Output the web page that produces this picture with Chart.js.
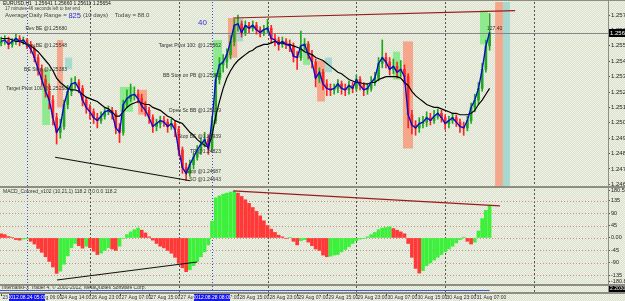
<!DOCTYPE html>
<html>
<head>
<meta charset="utf-8">
<script src="https://cdn.jsdelivr.net/npm/chart.js@4.4.0/dist/chart.umd.min.js"></script>
<style>
html, body { margin: 0; padding: 0; }
body {
  width: 625px; height: 301px; overflow: hidden; position: relative;
  background: #e4e8d8 repeating-conic-gradient(#d8e2c8 0 25%, #f2f0ea 0 50%) 0 0 / 2px 2px;
}
canvas { position: absolute; left: 0; }
.sep { position: absolute; background: #8f8d80; }
</style>
</head>
<body>
<canvas id="main" width="625" height="187" style="top:0"></canvas>
<canvas id="macd" width="625" height="97" style="top:188px"></canvas>
<canvas id="foot" width="625" height="16" style="top:285px"></canvas>
<div class="sep" style="left:0;top:0;width:625px;height:1px"></div>
<div class="sep" style="left:0;top:186px;width:625px;height:2px"></div>
<div class="sep" style="left:0;top:284px;width:625px;height:2px"></div>
<div class="sep" style="left:0;top:292px;width:625px;height:2px"></div>
<div class="sep" style="left:608px;top:0;width:1px;height:294px"></div>
<script>
'use strict'

// EURUSD H1, one value per bar
const closes = [
  1.2559, 1.2560, 1.2557, 1.2559, 1.2561, 1.2559, 1.2560, 1.2557, 1.2554, 1.2548,
  1.2540, 1.2533, 1.2525, 1.2519, 1.2507, 1.2497, 1.2501, 1.2516, 1.2525, 1.2530,
  1.2531, 1.2527, 1.2519, 1.2514, 1.2511, 1.2507, 1.2505, 1.2508, 1.2511, 1.2512,
  1.2510, 1.2500, 1.2497, 1.2516, 1.2520, 1.2522, 1.2523, 1.2520, 1.2515, 1.2512,
  1.2507, 1.2501, 1.2503, 1.2505, 1.2504, 1.2501, 1.2503, 1.2499, 1.2485, 1.2473,
  1.2469, 1.2475, 1.2480, 1.2485, 1.2489, 1.2492, 1.2486, 1.2505, 1.2533, 1.2543,
  1.2545, 1.2550, 1.2559, 1.2570, 1.2571, 1.2565, 1.2570, 1.2568, 1.2570, 1.2567,
  1.2565, 1.2567, 1.2568, 1.2561, 1.2560, 1.2557, 1.2559, 1.2557, 1.2556, 1.2549,
  1.2548, 1.2556, 1.2557, 1.2550, 1.2545, 1.2534, 1.2538, 1.2530, 1.2527, 1.2526,
  1.2527, 1.2530, 1.2527, 1.2526, 1.2529, 1.2527, 1.2533, 1.2529, 1.2526, 1.2527,
  1.2531, 1.2534, 1.2544, 1.2548, 1.2545, 1.2540, 1.2542, 1.2538, 1.2540, 1.2535,
  1.2509, 1.2502, 1.2500, 1.2503, 1.2504, 1.2507, 1.2505, 1.2508, 1.2510, 1.2507,
  1.2503, 1.2505, 1.2507, 1.2504, 1.2501, 1.2500, 1.2505, 1.2514, 1.2519, 1.2527,
  1.2540, 1.2556, 1.2565
]
const highs = [
  1.2562, 1.2563, 1.2562, 1.2561, 1.2564, 1.2563, 1.2562, 1.2561, 1.2559, 1.2556,
  1.2550, 1.2543, 1.2536, 1.2530, 1.2522, 1.2510, 1.2506, 1.2519, 1.2529, 1.2534,
  1.2535, 1.2533, 1.2529, 1.2521, 1.2516, 1.2513, 1.2510, 1.2511, 1.2514, 1.2515,
  1.2514, 1.2512, 1.2503, 1.2519, 1.2526, 1.2530, 1.2528, 1.2526, 1.2523, 1.2518,
  1.2514, 1.2509, 1.2506, 1.2508, 1.2508, 1.2506, 1.2506, 1.2505, 1.2501, 1.2487,
  1.2476, 1.2478, 1.2483, 1.2488, 1.2493, 1.2497, 1.2495, 1.2508, 1.2537, 1.2548,
  1.2550, 1.2554, 1.2563, 1.2574, 1.2577, 1.2573, 1.2573, 1.2572, 1.2573, 1.2572,
  1.2569, 1.2570, 1.2574, 1.2570, 1.2564, 1.2562, 1.2562, 1.2561, 1.2560, 1.2558,
  1.2552, 1.2566, 1.2561, 1.2559, 1.2553, 1.2547, 1.2541, 1.2540, 1.2533, 1.2530,
  1.2530, 1.2533, 1.2532, 1.2530, 1.2532, 1.2531, 1.2536, 1.2535, 1.2531, 1.2530,
  1.2535, 1.2538, 1.2548, 1.2560, 1.2551, 1.2548, 1.2547, 1.2545, 1.2546, 1.2543,
  1.2537, 1.2512, 1.2505, 1.2507, 1.2508, 1.2511, 1.2510, 1.2512, 1.2513, 1.2512,
  1.2509, 1.2508, 1.2510, 1.2509, 1.2506, 1.2504, 1.2508, 1.2517, 1.2523, 1.2531,
  1.2544, 1.2560, 1.2578
]
const lows = [
  1.2556, 1.2557, 1.2554, 1.2555, 1.2557, 1.2556, 1.2557, 1.2554, 1.2551, 1.2545,
  1.2536, 1.2529, 1.2521, 1.2513, 1.2502, 1.2489, 1.2493, 1.2499, 1.2513, 1.2522,
  1.2527, 1.2524, 1.2515, 1.2510, 1.2506, 1.2503, 1.2500, 1.2503, 1.2506, 1.2509,
  1.2506, 1.2496, 1.2490, 1.2495, 1.2514, 1.2518, 1.2519, 1.2517, 1.2511, 1.2508,
  1.2503, 1.2497, 1.2498, 1.2500, 1.2501, 1.2497, 1.2499, 1.2494, 1.2481, 1.2469,
  1.2464, 1.2467, 1.2472, 1.2478, 1.2482, 1.2487, 1.2482, 1.2484, 1.2503, 1.2530,
  1.2538, 1.2541, 1.2547, 1.2556, 1.2566, 1.2562, 1.2563, 1.2565, 1.2566, 1.2564,
  1.2562, 1.2563, 1.2565, 1.2558, 1.2556, 1.2553, 1.2555, 1.2554, 1.2552, 1.2545,
  1.2540, 1.2546, 1.2553, 1.2547, 1.2541, 1.2528, 1.2531, 1.2526, 1.2522, 1.2522,
  1.2523, 1.2524, 1.2523, 1.2522, 1.2523, 1.2524, 1.2525, 1.2526, 1.2522, 1.2523,
  1.2525, 1.2529, 1.2532, 1.2541, 1.2541, 1.2536, 1.2537, 1.2534, 1.2535, 1.2530,
  1.2500, 1.2496, 1.2495, 1.2497, 1.2500, 1.2501, 1.2502, 1.2503, 1.2506, 1.2504,
  1.2499, 1.2500, 1.2503, 1.2501, 1.2497, 1.2495, 1.2498, 1.2503, 1.2511, 1.2516,
  1.2525, 1.2538, 1.2553
]
const firstOpen = 1.2558
// slow moving average (black curve)
const slowMA = [
  1.2561, 1.2561, 1.2561, 1.2560, 1.2559, 1.2559, 1.2558, 1.2557, 1.2556, 1.2554,
  1.2552, 1.2549, 1.2546, 1.2543, 1.2539, 1.2534, 1.2531, 1.2529, 1.2527, 1.2526,
  1.2526, 1.2525, 1.2523, 1.2521, 1.2520, 1.2519, 1.2518, 1.2516, 1.2514, 1.2513,
  1.2511, 1.2508, 1.2508, 1.2511, 1.2514, 1.2516, 1.2517, 1.2518, 1.2517, 1.2516,
  1.2516, 1.2514, 1.2513, 1.2512, 1.2510, 1.2508, 1.2507, 1.2505, 1.2504, 1.2503,
  1.2500, 1.2497, 1.2495, 1.2492, 1.2490, 1.2488, 1.2487, 1.2495, 1.2508, 1.2518,
  1.2527, 1.2534, 1.2539, 1.2543, 1.2546, 1.2548, 1.2550, 1.2552, 1.2553, 1.2555,
  1.2556, 1.2557, 1.2557, 1.2558, 1.2559, 1.2558, 1.2558, 1.2557, 1.2557, 1.2556,
  1.2555, 1.2554, 1.2552, 1.2551, 1.2550, 1.2548, 1.2547, 1.2546, 1.2544, 1.2542,
  1.2540, 1.2538, 1.2537, 1.2535, 1.2533, 1.2532, 1.2531, 1.2531, 1.2530, 1.2530,
  1.2531, 1.2531, 1.2533, 1.2534, 1.2535, 1.2535, 1.2535, 1.2535, 1.2534, 1.2531,
  1.2529, 1.2525, 1.2522, 1.2520, 1.2518, 1.2516, 1.2515, 1.2514, 1.2514, 1.2513,
  1.2512, 1.2511, 1.2510, 1.2510, 1.2509, 1.2509, 1.2509, 1.2510, 1.2512, 1.2516,
  1.2519, 1.2523, 1.2527
]
// MACD_Colored histogram
const macd = [
  15, 12, 5, 2, -6, -8, -4, -3, -12, -22,
  -38, -52, -68, -85, -105, -128, -120, -95, -65, -35,
  -20, -28, -37, -30, -35, -48, -60, -55, -45, -35,
  -40, -45, -30, -2, 12, 22, 30, 36, 28, 18,
  4, -8, -20, -30, -36, -45, -55, -70, -92, -108,
  -122, -115, -100, -85, -68, -50, -25, 60, 145, 152,
  158, 162, 166, 168, 162, 150, 138, 125, 110, 96,
  80, 62, 45, 32, 20, 10, 4, -2, 2, -12,
  -25, -10, -6, -15, -28, -40, -45, -62, -68, -66,
  -62, -60, -50, -42, -32, -20, -10, -4, -2, 4,
  12, 20, 30, 36, 38, 40, 34, 28, 22, 15,
  -20, -70, -110, -127, -118, -100, -90, -80, -70, -60,
  -50, -40, -30, -18, -6, 3, -12, -22, -15, 25,
  70, 100, 118
]

const priceTicks = [1.25770, 1.25665, 1.25560, 1.25455, 1.25350, 1.25245, 1.25140, 1.25035, 1.24930, 1.24825, 1.24720, 1.24615]
const macdTicks = [172, 135, 90, 45, 0, -45, -90, -135, -158]
const macdTickLabels = ['180.5', '135', '90', '45', '0.00', '-45', '-90', '-135', '-180.8']
const macdLevels = [135, 90, 45, 0, -45, -90, -135]

const timeBars = [0, 8, 16, 24, 32, 40, 48, 56, 64, 72, 80, 88, 96, 104, 112, 120, 128]
const timeLabels = ['23 Aug 22:00', '24 Aug 06:00', '24 Aug 14:00', '26 Aug 23:00', '27 Aug 07:00', '27 Aug 15:00',
  '27 Aug 23:00', '28 Aug 07:00', '28 Aug 15:00', '28 Aug 23:00', '29 Aug 07:00', '29 Aug 15:00',
  '29 Aug 23:00', '30 Aug 07:00', '30 Aug 15:00', '30 Aug 23:00', '31 Aug 07:00']
const gridBars = [24, 48, 72, 96, 120, 144]
const markerBars = [7, 57]
const markerLabels = ['2012.08.24 05:00', '2012.08.28 08:00']

// drawn objects, in bar / price units
const zones = [
  {kind: 'green', from: 11.1, to: 13.2, top: 1.2540, bottom: 1.2502},
  {kind: 'salmon', from: 15.1, to: 16.7, top: 1.2560, bottom: 1.2514},
  {kind: 'teal', from: 17.3, to: 19.2, top: 1.2548, bottom: 1.2540},
  {kind: 'green', from: 32.1, to: 35.6, top: 1.2528, bottom: 1.2511},
  {kind: 'salmon', from: 37.0, to: 39.4, top: 1.2526, bottom: 1.2509},
  {kind: 'green', from: 57.3, to: 59.7, top: 1.2560, bottom: 1.2534},
  {kind: 'salmon', from: 61.3, to: 63.8, top: 1.2575, bottom: 1.2548},
  {kind: 'teal', from: 63.8, to: 65.4, top: 1.2575, bottom: 1.2559},
  {kind: 'green', from: 81.6, to: 83.5, top: 1.2558, bottom: 1.2543},
  {kind: 'salmon', from: 85.4, to: 87.5, top: 1.2546, bottom: 1.2518},
  {kind: 'teal', from: 87.5, to: 89.4, top: 1.2548, bottom: 1.2538},
  {kind: 'green', from: 105.9, to: 107.8, top: 1.2552, bottom: 1.2533},
  {kind: 'salmon', from: 108.6, to: 111.3, top: 1.2559, bottom: 1.2486},
  {kind: 'green', from: 129.4, to: 131.6, top: 1.2580, bottom: 1.2557},
  {kind: 'salmon', from: 133.5, to: 135.6, top: null, bottom: null},
  {kind: 'teal', from: 135.6, to: 137.5, top: null, bottom: null}
]
const zoneColors = {green: '#8fea8f', salmon: '#f5a68b', teal: '#a7d9d0'}

const priceTrends = [
  {from: [14.6, 1.2480], to: [51.1, 1.2464], color: '#111111'},
  {from: [62.7, 1.2575], to: [138.9, 1.2580], color: '#9a1b1b'}
]
const macdTrends = [
  {from: [15.1, -152], to: [53.0, -87], color: '#111111'},
  {from: [62.7, 170], to: [134.8, 116], color: '#9a1b1b'}
]

const levelLabels = [
  {text: 'Rev BE @1.25680', bar: 17.8, price: 1.2568},
  {text: 'Rev BE @1.25548', bar: 17.8, price: 1.2556},
  {text: 'BE Stop @1.25383', bar: 17.8, price: 1.2540},
  {text: 'Target Pivot 100 @1.25258', bar: 17.8, price: 1.2527},
  {text: 'Target Pivot 100: @1.25562', bar: 59.4, price: 1.2556},
  {text: 'BB Stop on PB @1.25362', bar: 59.4, price: 1.2536},
  {text: 'Open Sc BB @1.25129', bar: 59.4, price: 1.2512},
  {text: 'Stop BE @1.24939', bar: 59.4, price: 1.2494},
  {text: 'TP @1.24823', bar: 59.4, price: 1.2484},
  {text: 'Stop @1.24687', bar: 59.4, price: 1.2470},
  {text: 'SO @1.24643', bar: 59.4, price: 1.2465}
]

const FONT = '"Liberation Sans", Arial, sans-serif'
const bullColor = '#1fa81f'
const bearColor = '#ff2424'

const bars = closes.map((c, i) => i)
const opens = [firstOpen, ...closes.slice(0, -1)]
const candleColors = bars.map(i => closes[i] >= opens[i] ? bullColor : bearColor)
const macdColors = macd.map((v, i) => i > 0 && v > macd[i - 1] ? '#3cf03c' : '#ff3838')

function trendSet (t) {
  return {
    type: 'line',
    data: [{x: t.from[0], y: t.from[1]}, {x: t.to[0], y: t.to[1]}],
    borderColor: t.color, borderWidth: 1.2, pointRadius: 0, order: 0
  }
}

function drawVGrid (ctx, x, top, bottom) {
  ctx.save()
  ctx.lineWidth = 1
  ctx.setLineDash([2, 2])
  ctx.strokeStyle = '#55554c'
  gridBars.forEach(b => {
    const px = Math.round(x.getPixelForValue(b)) + 0.5
    ctx.beginPath(); ctx.moveTo(px, top); ctx.lineTo(px, bottom); ctx.stroke()
  })
  ctx.setLineDash([1, 2])
  ctx.strokeStyle = '#2f4fe6'
  markerBars.forEach(b => {
    const px = Math.round(x.getPixelForValue(b)) + 0.5
    ctx.beginPath(); ctx.moveTo(px, top); ctx.lineTo(px, bottom); ctx.stroke()
  })
  ctx.restore()
}

const xScale = {type: 'linear', display: false, offset: false, min: -0.3, max: 164}

const mainDecor = {
  id: 'mainDecor',
  beforeDatasetsDraw (chart) {
    const {ctx, chartArea: a, scales: {x, y}} = chart
    ctx.save()
    ctx.beginPath(); ctx.rect(a.left, a.top, a.right - a.left, a.bottom - a.top); ctx.clip()
    drawVGrid(ctx, x, a.top, a.bottom)
    zones.forEach(z => {
      const x0 = x.getPixelForValue(z.from)
      const x1 = x.getPixelForValue(z.to)
      const y0 = z.top == null ? a.top : y.getPixelForValue(z.top)
      const y1 = z.bottom == null ? a.bottom : y.getPixelForValue(z.bottom)
      ctx.fillStyle = zoneColors[z.kind]
      ctx.fillRect(x0, y0, x1 - x0, y1 - y0)
    })
    const by = Math.round(y.getPixelForValue(closes[closes.length - 1])) + 0.5
    ctx.strokeStyle = '#858585'
    ctx.lineWidth = 1
    ctx.beginPath(); ctx.moveTo(a.left, by); ctx.lineTo(a.right, by); ctx.stroke()
    ctx.restore()
  },
  afterDatasetsDraw (chart) {
    const {ctx, scales: {x, y}} = chart
    ctx.save()
    ctx.font = '5px ' + FONT
    ctx.fillStyle = '#333'
    ctx.textAlign = 'right'
    ctx.textBaseline = 'middle'
    levelLabels.forEach(l => ctx.fillText(l.text, x.getPixelForValue(l.bar), y.getPixelForValue(l.price)))
    ctx.textAlign = 'left'
    ctx.fillText('127.40', x.getPixelForValue(131.3), y.getPixelForValue(1.2568))
    ctx.font = '8px ' + FONT
    ctx.fillStyle = '#3434d4'
    ctx.fillText('40', x.getPixelForValue(53.2), y.getPixelForValue(1.2572))
    ctx.restore()
  },
  afterDraw (chart) {
    const {ctx, chartArea: a, scales: {y}} = chart
    ctx.save()
    const last = closes[closes.length - 1]
    const by = Math.round(y.getPixelForValue(last))
    ctx.fillStyle = '#000'
    ctx.fillRect(a.right, by - 4, chart.width - a.right, 8)
    ctx.fillStyle = '#fff'
    ctx.font = '6px ' + FONT
    ctx.textBaseline = 'middle'
    ctx.fillText(last.toFixed(5), a.right + 2, by)
    // header texts
    ctx.fillStyle = '#111'
    ctx.font = '5px ' + FONT
    ctx.fillText('EURUSD,H1  1.25641 1.25660 1.25611 1.25654', 3, 4)
    ctx.font = '4.5px ' + FONT
    ctx.fillStyle = '#444'
    ctx.fillText('17 minutes 46 seconds left to bar end', 5, 9)
    let tx = 5
    ctx.font = '6px ' + FONT
    ctx.fillStyle = '#444'
    ctx.fillText('Average Daily Range = ', tx, 15.5)
    tx += ctx.measureText('Average Daily Range = ').width
    ctx.font = '7.5px ' + FONT
    ctx.fillStyle = '#2a2ae0'
    ctx.fillText('825', tx, 15.5)
    tx += ctx.measureText('825 ').width
    ctx.font = '6px ' + FONT
    ctx.fillStyle = '#444'
    ctx.fillText('(10 days)    Today = 88.0', tx, 15.5)
    ctx.restore()
  }
}

const macdDecor = {
  id: 'macdDecor',
  beforeDatasetsDraw (chart) {
    const {ctx, chartArea: a, scales: {x, y}} = chart
    ctx.save()
    drawVGrid(ctx, x, a.top, a.bottom)
    ctx.setLineDash([1, 2])
    ctx.strokeStyle = 'rgba(210,110,110,0.75)'
    ctx.lineWidth = 1
    macdLevels.forEach(v => {
      const py = Math.round(y.getPixelForValue(v)) + 0.5
      ctx.beginPath(); ctx.moveTo(a.left, py); ctx.lineTo(a.right, py); ctx.stroke()
    })
    ctx.restore()
  },
  afterDatasetsDraw (chart) {
    const {ctx} = chart
    ctx.save()
    ctx.font = '5px ' + FONT
    ctx.fillStyle = '#333'
    ctx.textBaseline = 'middle'
    ctx.fillText('MACD_Colored_v102 (10,21,1) 118.2 0.0 0.0 118.2', 3, 4)
    ctx.restore()
  }
}

const yAxisCommon = {
  position: 'right',
  afterFit: s => { s.width = 17; s.paddingTop = 0; s.paddingBottom = 0 },
  grid: {drawOnChartArea: false, tickLength: 2, color: '#555'},
  border: {color: '#8f8d80'}
}

const mainChart = new Chart(document.getElementById('main'), {
  type: 'bar',
  data: {
    datasets: [
      {type: 'bar', data: bars.map(i => ({x: i, y: [lows[i], highs[i]]})), backgroundColor: candleColors, barThickness: 1, grouped: false, order: 5},
      {type: 'bar', data: bars.map(i => ({x: i, y: [opens[i], closes[i]]})), backgroundColor: candleColors, barThickness: 2, grouped: false, order: 4},
      {type: 'line', data: bars.map(i => ({x: i, y: slowMA[i]})), borderColor: '#000', borderWidth: 1.2, pointRadius: 0, order: 3},
      {type: 'line', data: bars.map(i => ({x: i, y: closes[i]})), borderColor: '#0b0bd0', borderWidth: 1.4, pointRadius: 0, order: 2},
      ...priceTrends.map(trendSet)
    ]
  },
  options: {
    responsive: false,
    animation: false,
    events: [],
    layout: {padding: {top: 2, bottom: 1, left: 0, right: 0}},
    plugins: {legend: {display: false}, tooltip: {enabled: false}},
    scales: {
      x: xScale,
      y: {
        ...yAxisCommon,
        min: 1.24604,
        max: 1.25859,
        afterBuildTicks: s => { s.ticks = priceTicks.map(v => ({value: v})) },
        ticks: {font: {size: 6, family: FONT}, color: '#222', padding: 1, autoSkip: false, callback: v => v.toFixed(5)}
      }
    }
  },
  plugins: [mainDecor]
})

new Chart(document.getElementById('macd'), {
  type: 'bar',
  data: {
    datasets: [
      {type: 'bar', data: bars.map(i => ({x: i, y: macd[i]})), backgroundColor: macdColors, barThickness: 3, grouped: false, order: 2},
      ...macdTrends.map(trendSet)
    ]
  },
  options: {
    responsive: false,
    animation: false,
    events: [],
    layout: {padding: {top: 1, bottom: 1, left: 0, right: 0}},
    plugins: {legend: {display: false}, tooltip: {enabled: false}},
    scales: {
      x: xScale,
      y: {
        ...yAxisCommon,
        min: -166.5,
        max: 177,
        afterBuildTicks: s => { s.ticks = macdTicks.map(v => ({value: v})) },
        ticks: {font: {size: 5.5, family: FONT}, color: '#222', padding: 1, autoSkip: false, callback: (v, i) => macdTickLabels[i]}
      }
    }
  },
  plugins: [macdDecor]
})

// small third window and the time scale
const fctx = document.getElementById('foot').getContext('2d')
const fx = mainChart.scales.x
fctx.save()
fctx.beginPath(); fctx.rect(0, 1, 608, 6); fctx.clip()
drawVGrid(fctx, fx, 1, 7)
fctx.strokeStyle = '#3a5ad8'
fctx.lineWidth = 1
fctx.beginPath(); fctx.moveTo(0, 5.5); fctx.lineTo(fx.getPixelForValue(bars.length - 1), 5.5); fctx.stroke()
fctx.restore()
fctx.font = '5px ' + FONT
fctx.textBaseline = 'middle'
fctx.fillStyle = '#333'
fctx.fillText('InterbankFX Trader 4, \u00a9 2001-2012, MetaQuotes Software Corp.', 2, 2.5)
fctx.fillStyle = '#000'
fctx.fillRect(609, 1, 16, 6)
fctx.fillStyle = '#fff'
fctx.fillText('2.2030', 610, 4)

fctx.strokeStyle = '#444'
fctx.fillStyle = '#333'
timeBars.forEach((b, k) => {
  const px = Math.round(fx.getPixelForValue(b)) + 0.5
  fctx.beginPath(); fctx.moveTo(px, 9); fctx.lineTo(px, 11); fctx.stroke()
  fctx.fillText(timeLabels[k], px + 1, 12.5)
})
markerBars.forEach((b, k) => {
  const px = fx.getPixelForValue(b)
  fctx.fillStyle = '#1616e6'
  fctx.fillRect(px - 18, 9, 36, 7)
  fctx.fillStyle = '#fff'
  fctx.textAlign = 'center'
  fctx.fillText(markerLabels[k], px, 12.5)
  fctx.textAlign = 'left'
})
</script>
</body>
</html>
